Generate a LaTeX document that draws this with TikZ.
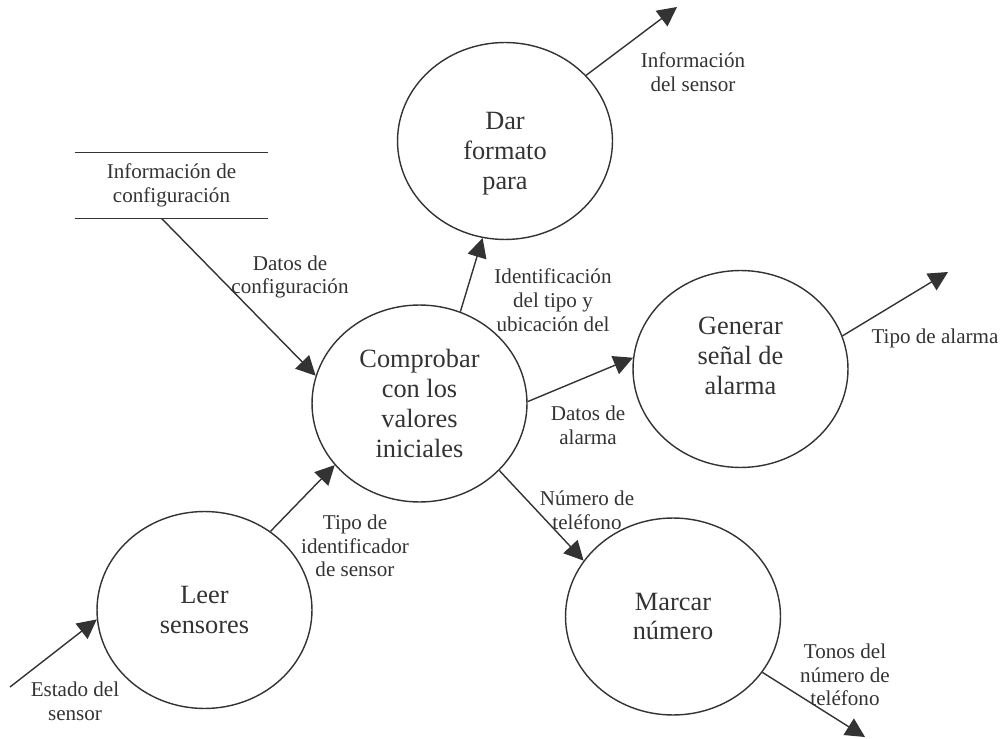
\documentclass[tikz,border=0pt]{standalone}
\usepackage{fontspec}
\setmainfont{Liberation Serif}
\usepackage{xcolor}
\usepackage{tikz}
\usetikzlibrary{arrows.meta, positioning, shapes.geometric, calc}
\definecolor{ink}{HTML}{333333}

\begin{document}
\begin{tikzpicture}[
    x=0.02cm, y=-0.02cm,
    process/.style={draw=ink, ellipse, line width=0.8pt, inner sep=0pt, minimum width=4.3cm, minimum height=3.94cm, align=center, text=ink, font=\fontsize{15}{17}\selectfont},
    procText/.style={align=center, text=ink, inner sep=0pt, font=\fontsize{15}{17}\selectfont},
    store/.style={rectangle, minimum width=3.86cm, minimum height=1.3cm, align=center, text=ink, font=\fontsize{12}{13.5}\selectfont},
    flowLabel/.style={align=center, text=ink, inner sep=0pt, font=\fontsize{12}{13.5}\selectfont},
    flow/.style={draw=ink, line width=0.8pt, -{Triangle[length=11pt, width=11pt]}}
]
    \useasboundingbox (0,0) rectangle (1003,739);

    % Processes
    \node[process] (dar) at (505,141) {};
    \node[procText] (darTxt) at (505,154) {Dar\\formato\\para};
    \node[process] (comp) at (419.5,403.5) {Comprobar\\con los\\valores\\iniciales};
    \node[process] (gen) at (740.5,369) {};
    \node[procText] (genTxt) at (740.5,356) {Generar\\señal de\\alarma};
    \node[process] (leer) at (204.5,610) {Leer\\sensores};
    \node[process] (marc) at (673,616.5) {Marcar\\número};

    % Data store
    \node[store] (cfg) at (171.5,185.5) {Información de\\configuración};
    \draw[draw=ink, line width=0.8pt] (cfg.north west) -- (cfg.north east);
    \draw[draw=ink, line width=0.8pt] (cfg.south west) -- (cfg.south east);

    % Free ends
    \coordinate (darOut) at (677,7);
    \coordinate (genOut) at (948,272);
    \coordinate (sensIn) at (10,687);
    \coordinate (marcOut) at (865,737);

    % Connections
    \draw[flow] ($(cfg.south)+(-10,0)$) -- (comp.165);
    \draw[flow] (sensIn) -- (leer.185);
    \draw[flow] (leer.50) -- (comp.216);
    \draw[flow] (comp.66) -- (dar.257);
    \draw[flow] (comp.1) -- (gen.174);
    \draw[flow] (comp.320) -- (marc.148);
    \draw[flow] (dar.39) -- (darOut);
    \draw[flow] (gen.18) -- (genOut);
    \draw[flow] (marc.328) -- (marcOut);

    % Labels
    \node[flowLabel] (lblConf) at (290,277) {Datos de\\configuración};
    \node[flowLabel] (lblIdent) at (553,300) {Identificación\\del tipo y\\ubicación del};
    \node[flowLabel] (lblAlarm) at (588,425) {Datos de\\alarma};
    \node[flowLabel] (lblTipoAl) at (935,338) {Tipo de alarma};
    \node[flowLabel] (lblInfo) at (693,72) {Información\\del sensor};
    \node[flowLabel] (lblTipoId) at (355,546) {Tipo de\\identificador\\de sensor};
    \node[flowLabel] (lblEstado) at (75,701) {Estado del\\sensor};
    \node[flowLabel] (lblTel) at (587,510) {Número de\\teléfono};
    \node[flowLabel] (lblTonos) at (845,675) {Tonos del\\número de\\teléfono};

\end{tikzpicture}
\end{document}
